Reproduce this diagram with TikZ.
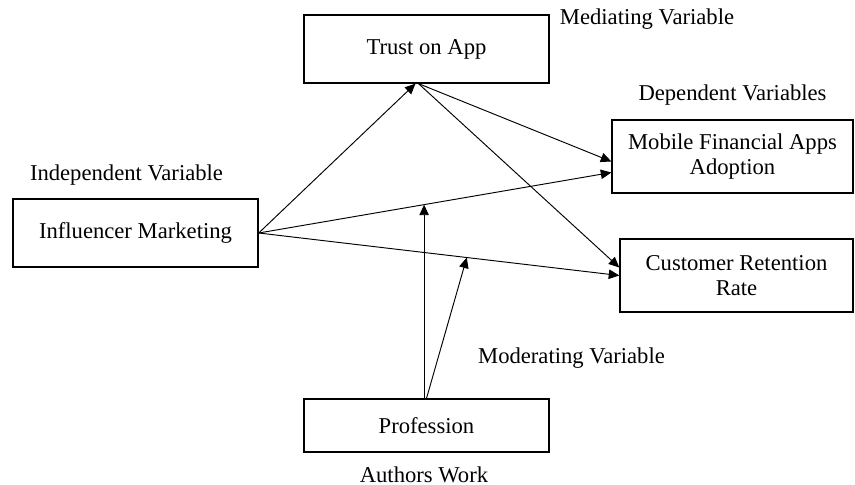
\documentclass[tikz,border=0pt]{standalone}
\usepackage{fontspec}
\setmainfont{Liberation Serif}
\usetikzlibrary{positioning,calc,arrows.meta}

\begin{document}
\begin{tikzpicture}[x=0.53pt, y=-0.53pt,
        block/.style={draw, rectangle, line width=0.7pt, align=center, inner sep=0pt, fill=white, font=\fontsize{12}{13.3}\selectfont},
        tag/.style={inner sep=0pt, font=\fontsize{12}{13.3}\selectfont},
        link/.style={->, line width=0.5pt},
        >={Triangle[length=5.6pt, width=5pt]}
    ]
        \useasboundingbox (0,0) rectangle (855,485);

        \node [block, minimum width=129.9pt, minimum height=36pt] (infl) at (135.5,233) {Influencer Marketing};
        \node [block, minimum width=129.9pt, minimum height=36pt] (trust) at (426.5,49) {Trust on App};
        \node [block, minimum width=127.7pt, minimum height=38.7pt] (mob) at (732.5,156.5) {Mobile Financial Apps\\Adoption};
        \node [block, minimum width=123.5pt, minimum height=38.7pt] (cust) at (736.5,275.5) {Customer Retention\\Rate};
        \node [block, minimum width=129.9pt, minimum height=28.1pt] (prof) at (426.5,425.5) {Profession};

        \node [tag] (indep) at (126.5,175) {Independent Variable};
        \node [tag] (medi) at (647,19) {Mediating Variable};
        \node [tag] (dep) at (732.5,95) {Dependent Variables};
        \node [tag] (moder) at (571.5,358) {Moderating Variable};
        \node [tag] (work) at (424,475) {Authors Work};

        \draw [link] (infl.east) -- ($(trust.south)+(-11,0)$);
        \draw [link] ($(trust.south)+(-8,0)$) -- ($(mob.west)+(0,5)$);
        \draw [link] ($(trust.south)+(-8,0)$) -- ($(cust.west)+(0,-8)$);
        \draw [link] (infl.east) -- coordinate[pos=0.469] (m1) ($(mob.west)+(0,16)$);
        \draw [link] (infl.east) -- coordinate[pos=0.577] (m2) (cust.west);
        \draw [link] (m1 |- prof.north) -- (m1);
        \draw [link] (prof.north) -- (m2);
    \end{tikzpicture}
\end{document}
